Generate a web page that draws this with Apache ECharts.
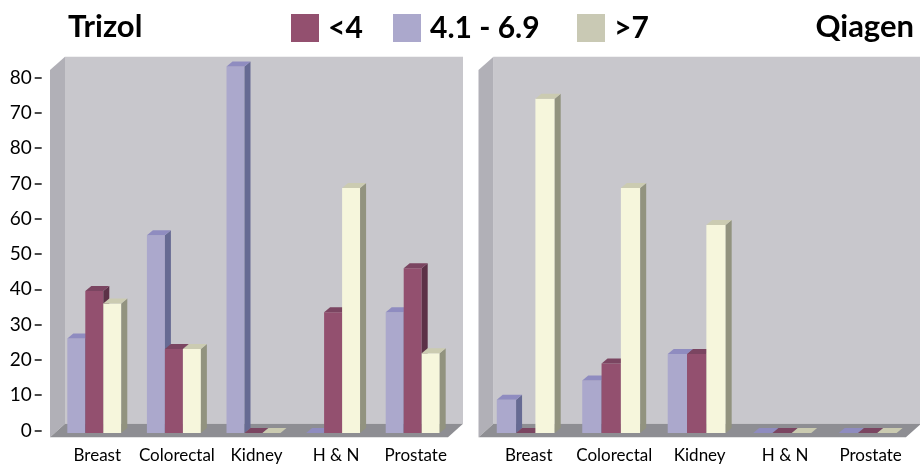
<!DOCTYPE html>
<html>
<head>
<meta charset="utf-8">
<script src="https://cdn.jsdelivr.net/npm/echarts@6/dist/echarts.min.js"></script>
<style>
  html, body { margin: 0; padding: 0; background: #ffffff; }
  #chart { width: 920px; height: 466px; }
</style>
</head>
<body>
<div id="chart"></div>
<script>
// ---- data ----
const categories = ['Breast', 'Colorectal', 'Kidney', 'H & N', 'Prostate'];
const tickValues = [0, 10, 20, 30, 40, 50, 60, 70, 80, 90, 100];
const tickLabels = ['0', '10', '20', '30', '40', '50', '60', '70', '80', '70', '80'];
const seriesNames = ['<4', '4.1 - 6.9', '>7'];

// Trizol panel
const trizolLow  = [40.2, 23.8, 0, 34.2, 46.7];   // <4
const trizolMid  = [26.8, 56.0, 103.8, 0, 34.2]; // 4.1 - 6.9
const trizolHigh = [36.7, 23.8, 0, 69.4, 22.6];  // >7

// Qiagen panel
const qiagenLow  = [0, 19.7, 22.4, 0, 0];
const qiagenMid  = [9.4, 14.9, 22.4, 0, 0];
const qiagenHigh = [94.7, 69.4, 58.9, 0, 0];

// ---- styling ----
const FONT = 'Lato, "Open Sans", sans-serif';
const Y_MAX = 104;
const BAR_RATIO = 0.226;         // bar width as a share of the category band
const BAR_DEPTH = [6, 5];        // extrusion of each bar (dx, dy)
const WALL_DEPTH = [15, 13.3];   // extrusion of the chart box (dx, dy)

const palette = {
  '<4':        { front: '#93506f', top: '#7b4561', side: '#5c3147', legend: '#93506f' },
  '4.1 - 6.9': { front: '#aba8cc', top: '#8f8cc0', side: '#666a93', legend: '#aba8cc' },
  '>7':        { front: '#f6f6dc', top: '#cbcbb1', side: '#92937f', legend: '#c9c9b4' }
};
// left-to-right order of the bars inside a category group
const slotOf = { '4.1 - 6.9': 0, '<4': 1, '>7': 2 };

const grids = [
  { left: 57.5, right: 464.5, top: 430.5 - Y_MAX * 3.53, bottom: 466 - 430.5 },
  { left: 486,  right: 6.6,   top: 430.5 - Y_MAX * 3.53, bottom: 466 - 430.5 }
];

// box behind the bars: back wall, left wall and floor around the grid's mid plane
function renderBox(params, api) {
  const cs = params.coordSys;
  const hx = WALL_DEPTH[0] / 2, hy = WALL_DEPTH[1] / 2;
  const l = cs.x, r = cs.x + cs.width, t = cs.y, b = cs.y + cs.height;
  return {
    type: 'group',
    children: [
      { type: 'polygon', shape: { points: [[l + hx, t - hy], [r + hx, t - hy], [r + hx, b - hy], [l + hx, b - hy]] },
        style: { fill: '#c8c7cc' } },
      { type: 'polygon', shape: { points: [[l - hx, t + hy], [l + hx, t - hy], [l + hx, b - hy], [l - hx, b + hy]] },
        style: { fill: '#b1b0b7' } },
      { type: 'polygon', shape: { points: [[l - hx, b + hy], [r - hx, b + hy], [r + hx, b - hy], [l + hx, b - hy]] },
        style: { fill: '#8e8e93' } }
    ]
  };
}

// extruded bar: front face, top face and right side face
function makeBarRenderer(name) {
  const c = palette[name];
  const slot = slotOf[name];
  return function (params, api) {
    const idx = api.value(0);
    const val = api.value(1);
    const base = api.coord([idx, 0]);
    const top = api.coord([idx, val]);
    const band = api.size([1, 0])[0];
    const w = band * BAR_RATIO;
    const hx = BAR_DEPTH[0] / 2, hy = BAR_DEPTH[1] / 2;
    const cx = base[0] + (slot - 1) * w - hx;
    const x0 = cx - w / 2, x1 = cx + w / 2;
    const yb = base[1] + hy, yt = top[1] + hy;
    const dx = BAR_DEPTH[0], dy = BAR_DEPTH[1];
    return {
      type: 'group',
      children: [
        { type: 'polygon', shape: { points: [[x0, yb], [x1, yb], [x1, yt], [x0, yt]] },
          style: { fill: c.front } },
        { type: 'polygon', shape: { points: [[x1, yb], [x1 + dx, yb - dy], [x1 + dx, yt - dy], [x1, yt]] },
          style: { fill: c.side } },
        { type: 'polygon', shape: { points: [[x0, yt], [x1, yt], [x1 + dx, yt - dy], [x0 + dx, yt - dy]] },
          style: { fill: c.top } }
      ]
    };
  };
}

const panels = [
  { low: trizolLow, mid: trizolMid, high: trizolHigh },
  { low: qiagenLow, mid: qiagenMid, high: qiagenHigh }
];

const series = [];
panels.forEach(function (p, gi) {
  series.push({
    type: 'custom', name: 'box' + gi, silent: true, z: 1,
    xAxisIndex: gi, yAxisIndex: gi,
    data: [[0, 0]],
    renderItem: renderBox
  });
  const byName = { '4.1 - 6.9': p.mid, '<4': p.low, '>7': p.high };
  ['4.1 - 6.9', '<4', '>7'].forEach(function (name) {
    series.push({
      type: 'custom', name: name, z: 2,
      xAxisIndex: gi, yAxisIndex: gi,
      itemStyle: { color: palette[name].legend },
      data: byName[name].map(function (v, i) { return [i, v]; }),
      renderItem: makeBarRenderer(name)
    });
  });
});

const legendLeft = [291, 393, 577];
const legends = seriesNames.map(function (name, i) {
  return {
    data: [name], left: legendLeft[i], top: 13, padding: 0,
    icon: 'rect', itemWidth: 28, itemHeight: 28, selectedMode: false,
    textStyle: { fontFamily: FONT, fontWeight: 'bold', fontSize: 30, color: '#000', padding: [0, 0, 0, 4] }
  };
});

const option = {
  animation: false,
  backgroundColor: '#ffffff',
  title: [
    { text: 'Trizol', left: 63, top: 6,
      textStyle: { fontFamily: FONT, fontWeight: 'bold', fontSize: 31, color: '#000' } },
    { text: 'Qiagen', right: 1, top: 6,
      textStyle: { fontFamily: FONT, fontWeight: 'bold', fontSize: 31, color: '#000' } }
  ],
  legend: legends,
  grid: grids,
  xAxis: [0, 1].map(function (gi) {
    return {
      type: 'category', gridIndex: gi, data: categories,
      axisLine: { show: false }, axisTick: { show: false },
      axisLabel: { fontFamily: FONT, fontSize: 17, color: '#000', margin: 17, interval: 0 },
      splitLine: { show: false }
    };
  }),
  yAxis: [0, 1].map(function (gi) {
    return {
      type: 'value', gridIndex: gi, min: 0, max: Y_MAX,
      show: gi === 0,
      offset: 15.8,
      axisLine: { show: false },
      axisTick: { show: true, length: 7, customValues: tickValues, lineStyle: { color: '#111', width: 1.5 } },
      axisLabel: {
        customValues: tickValues, margin: 10,
        fontFamily: FONT, fontSize: 19, color: '#000',
        formatter: function (v) { return tickLabels[tickValues.indexOf(v)]; }
      },
      splitLine: { show: false }
    };
  }),
  series: series
};

const chart = echarts.init(document.getElementById('chart'), null, { renderer: 'canvas' });
chart.setOption(option);
</script>
</body>
</html>
